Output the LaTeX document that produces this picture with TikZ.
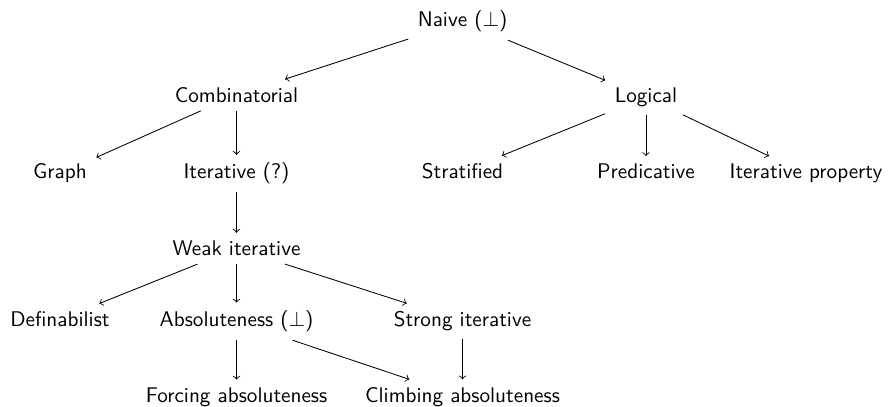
\documentclass[tikz,border=0pt]{standalone}
\begin{document}
\begin{tikzpicture}[x=0.4717pt,y=-0.4717pt,
  lbl/.style={font=\sffamily, inner xsep=1ex, inner ysep=0.85ex, anchor=base},
  arr/.style={->, >=to, line width=0.4pt}]
\useasboundingbox (0,0) rectangle (888,407);
\node[lbl] (naive)    at (462.5,26.7)  {Naive ($\perp$)};
\node[lbl] (comb)     at (236.5,102.3) {Combinatorial};
\node[lbl] (logical)  at (646,102.3)   {Logical};
\node[lbl] (graph)    at (60,179)      {Graph};
\node[lbl] (iter)     at (236.5,179)   {Iterative (?)};
\node[lbl] (strat)    at (462.5,179)   {Stratified};
\node[lbl] (pred)     at (646,179)     {Predicative};
\node[lbl] (iprop)    at (806,179)     {Iterative property};
\node[lbl] (weak)     at (236.5,255.7) {Weak iterative};
\node[lbl] (defin)    at (60,326.7)    {Definabilist};
\node[lbl] (abs)      at (236.5,326.7) {Absoluteness ($\perp$)};
\node[lbl] (strong)   at (462.5,326.7) {Strong iterative};
\node[lbl] (forcing)  at (236.5,402.5) {Forcing absoluteness};
\node[lbl] (climbing) at (462.5,402.5) {Climbing absoluteness};
\draw[arr] (naive) -- (comb);
\draw[arr] (naive) -- (logical);
\draw[arr] (comb) -- (graph);
\draw[arr] (comb) -- (iter);
\draw[arr] (logical) -- (strat);
\draw[arr] (logical) -- (pred);
\draw[arr] (logical) -- (iprop);
\draw[arr] (iter) -- (weak);
\draw[arr] (weak) -- (defin);
\draw[arr] (weak) -- (abs);
\draw[arr] (weak) -- (strong);
\draw[arr] (abs) -- (forcing);
\draw[arr] (abs) -- (climbing);
\draw[arr] (strong) -- (climbing);
\end{tikzpicture}
\end{document}
